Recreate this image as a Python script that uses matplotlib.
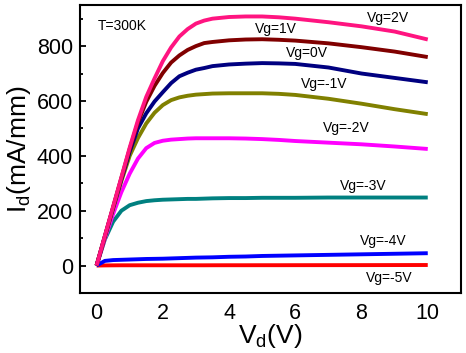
import matplotlib
matplotlib.use("Agg")
import matplotlib.pyplot as plt
from matplotlib.ticker import MultipleLocator

plt.rcParams['font.family'] = ['Liberation Sans', 'DejaVu Sans']
plt.rcParams['mathtext.fontset'] = 'custom'
plt.rcParams['mathtext.rm'] = 'Liberation Sans'
plt.rcParams['mathtext.it'] = 'Liberation Sans'
plt.rcParams['mathtext.default'] = 'regular'

vd = [0, 0.25, 0.5, 0.75, 1.0, 1.25, 1.5, 1.75, 2.0, 2.25, 2.5, 2.75, 3.0, 3.25,
      3.5, 4.0, 4.5, 5.0, 5.5, 6.0, 7.0, 8.0, 9.0, 10.0]

id_vg2 = [0, 108, 215, 322, 430, 530, 615, 682, 745, 795, 835, 862, 882, 893,
          900, 906, 908, 908, 905, 900, 887, 872, 853, 824]
id_vg1 = [0, 107, 213, 320, 425, 522, 597, 655, 702, 740, 766, 786, 800, 811,
          815, 821, 824, 825, 823, 820, 810, 796, 780, 760]
id_vg0 = [0, 106, 211, 315, 415, 500, 555, 598, 632, 665, 690, 703, 714, 720,
          727, 733, 736, 738, 737, 735, 722, 700, 684, 668]
id_vgm1 = [0, 104, 207, 308, 400, 465, 518, 557, 585, 603, 613, 619, 623, 625,
           627, 628, 628, 628, 626, 622, 608, 590, 570, 552]
id_vgm2 = [0, 98, 188, 268, 335, 390, 428, 447, 455, 459, 461, 463, 464, 464,
           464, 464, 463, 461, 458, 454, 448, 442, 434, 425]
id_vgm3 = [0, 95, 160, 200, 220, 229, 235, 238, 240, 241, 242, 243, 243, 244,
           245, 246, 246, 247, 247, 247, 248, 248, 248, 248]
id_vgm4 = [0, 17, 20, 21, 22, 23, 24, 24.5, 25, 26, 27, 28, 29, 29.5,
           30, 32, 33, 35, 36, 37, 39, 41, 43, 45]
id_vgm5 = [0, 0.5, 0.8, 1, 1, 1, 1, 1, 1, 1, 1, 1, 1, 1,
           1.1, 1.2, 1.2, 1.3, 1.3, 1.4, 1.5, 1.6, 1.8, 2]

series = [
    ("Vg=-5V", id_vgm5, "#FF0000", 8.85, -44),
    ("Vg=-4V", id_vgm4, "#0000FF", 8.67, 91),
    ("Vg=-3V", id_vgm3, "#008080", 8.04, 290),
    ("Vg=-2V", id_vgm2, "#FF00FF", 7.55, 501),
    ("Vg=-1V", id_vgm1, "#808000", 6.86, 661),
    ("Vg=0V", id_vg0, "#000080", 6.34, 773),
    ("Vg=1V", id_vg1, "#800000", 5.41, 864),
    ("Vg=2V", id_vg2, "#FF1480", 8.79, 904),
]

fig = plt.figure(figsize=(4.66, 3.53), dpi=100)
ax = fig.add_axes([0.1717, 0.170, 0.989 - 0.1717, 0.986 - 0.170])

for label, vals, color, tx, ty in series:
    ax.plot(vd, vals, color=color, lw=2.8, solid_capstyle='butt', solid_joinstyle='round')
    ax.text(tx, ty, label, fontsize=10, ha='center', va='center', color='black')

ax.text(0.79, 875, "T=300K", fontsize=10, ha='center', va='center')

ax.set_xlim(-0.5, 11.0)
ax.set_ylim(-100, 950)
ax.set_xticks([0, 2, 4, 6, 8, 10])
ax.set_yticks([0, 200, 400, 600, 800])
ax.yaxis.set_minor_locator(MultipleLocator(100))
ax.tick_params(axis='x', which='both', length=0, pad=7, labelsize=15.5)
ax.tick_params(axis='y', which='major', direction='in', length=4.5, width=1.3, pad=5, labelsize=15.5)
ax.tick_params(axis='y', which='minor', direction='in', length=2, width=1.3)
for s in ax.spines.values():
    s.set_linewidth(1.5)

ax.set_xlabel(r"V$_{d}$(V)", fontsize=19, labelpad=-1)
ax.set_ylabel(r"I$_{d}$(mA/mm)", fontsize=19, labelpad=3)

fig.savefig("out.png", dpi=100)
